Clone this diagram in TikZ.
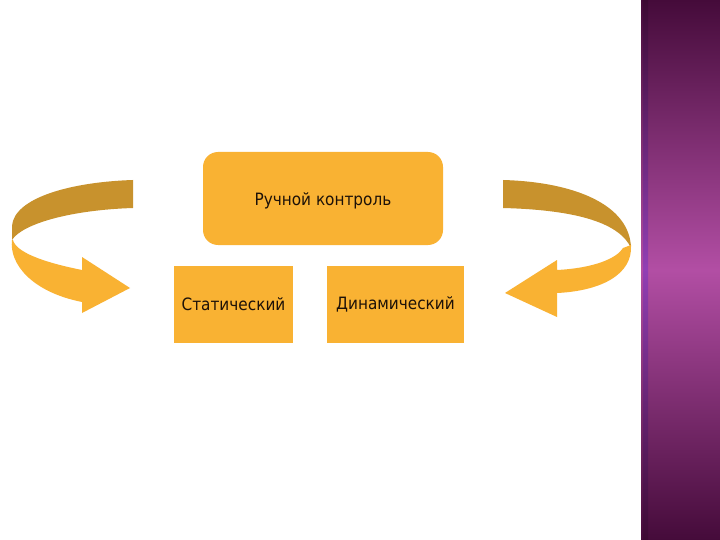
\documentclass[tikz,border=0pt]{standalone}
\usepackage{fontspec}
\setmainfont{DejaVu Sans Condensed}
\definecolor{boxor}{HTML}{F9B233}
\definecolor{bandd}{HTML}{C8922D}
\definecolor{txt}{HTML}{1E1208}
\definecolor{purd}{HTML}{450B3A}
\definecolor{purm}{HTML}{B24EA4}
\begin{document}
\begin{tikzpicture}[x=1pt,y=-1pt,
  boxst/.style={fill=boxor,draw=none,text=txt,font=\fontsize{17}{18}\selectfont},
  ribdark/.style={fill=bandd,draw=none},
  riblight/.style={fill=boxor,draw=none}]
\useasboundingbox (0,0) rectangle (720,540);
\fill[white] (0,0) rectangle (720,540);
% purple band
\shade[top color=purd, bottom color=purd, middle color=purm] (641,0) rectangle (720,540);
\shade[top color=purd!80!black, bottom color=purd!80!black, middle color=purm!70!blue, opacity=0.6] (643,0) rectangle (648,540);
% boxes
\node[boxst, rounded corners=15pt, minimum width=240pt, minimum height=93pt] (top) at (323,198.5) {};
\node[text=txt, font=\fontsize{17}{18}\selectfont] (toplbl) at (323,201) {Ручной контроль};
\node[boxst, minimum width=119pt, minimum height=77pt] (stat) at (233.5,304.5) {Статический};
\node[boxst, minimum width=137pt, minimum height=77pt] (dyn) at (395.5,304.5) {Динамический};
% left arrow
\path[ribdark] (133,180) .. controls (70,182) and (14,198) .. (12,226) -- (12,240)
   .. controls (22,224) and (70,210) .. (133,208) -- cycle;
\path[riblight] (12,240) .. controls (9,264) and (32,292) .. (82,302) -- (82,313) -- (130,288)
   -- (82,257) -- (82,270) .. controls (42,262) and (16,252) .. (13,240) -- cycle;
% right arrow
\path[ribdark] (503,180) .. controls (575,182) and (630,205) .. (631,248)
   .. controls (620,224) and (580,210) .. (503,208) -- cycle;
\path[riblight] (631,245) .. controls (633,275) and (600,291) .. (557,293) -- (557,317) -- (505,293)
   -- (557,260) -- (557,270) .. controls (595,268) and (617,258) .. (623,248) -- cycle;
\end{tikzpicture}
\end{document}
